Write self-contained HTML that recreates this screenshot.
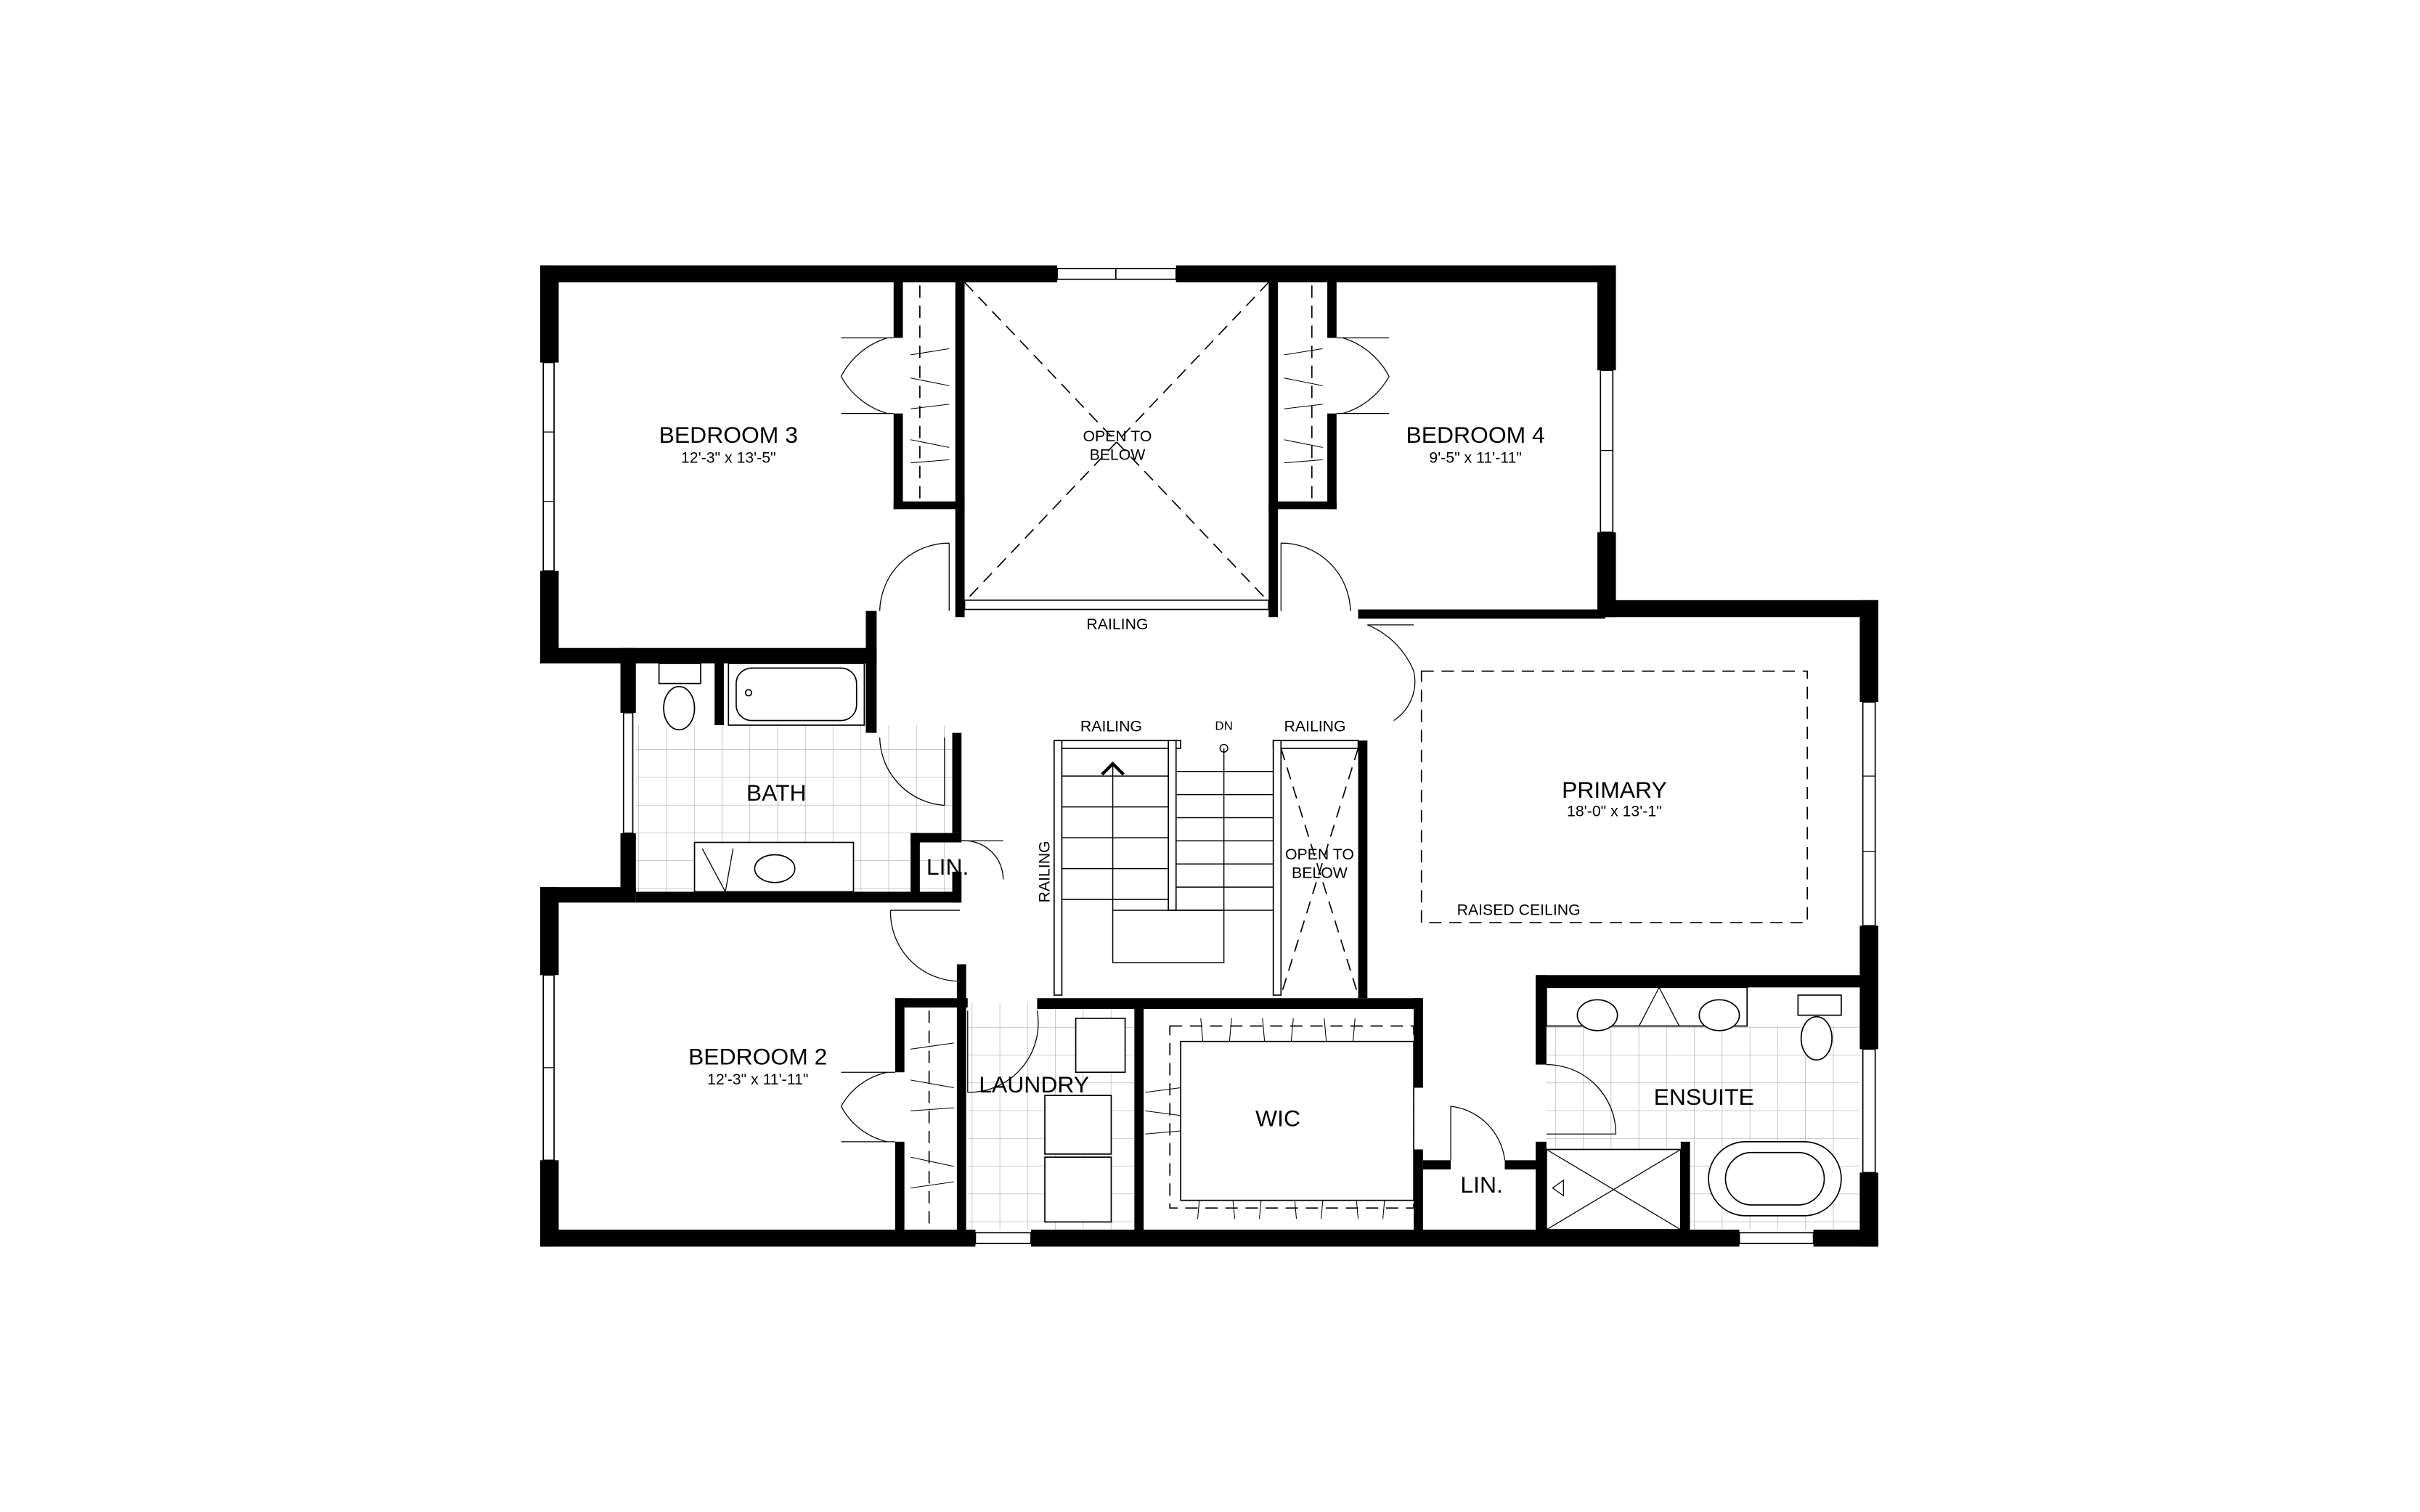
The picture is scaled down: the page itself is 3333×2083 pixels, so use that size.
<!DOCTYPE html>
<html><head><meta charset="utf-8"><style>
html,body{margin:0;padding:0;background:#fff;}
svg{display:block}
text{font-family:"Liberation Sans",sans-serif;fill:#000}
</style></head><body>
<svg width="3333" height="2083" viewBox="0 0 1568 980" preserveAspectRatio="none" xmlns="http://www.w3.org/2000/svg">
<defs>
<pattern id="tile" width="18" height="18" patternUnits="userSpaceOnUse">
<path d="M18 0V18H0" fill="none" stroke="#aaa" stroke-width="0.6"/>
</pattern>
</defs>
<rect width="1568" height="980" fill="#fff"/>
<rect x="412" y="470" width="205" height="108" fill="url(#tile)"/>
<rect x="627" y="650" width="108" height="147" fill="url(#tile)"/>
<rect x="1002" y="665" width="203" height="132" fill="url(#tile)"/>
<g fill="#000">
<rect x="350" y="172" width="335" height="11"/>
<rect x="762" y="172" width="285" height="11"/>
<rect x="350" y="172" width="12" height="63"/>
<rect x="350" y="370" width="12" height="60"/>
<rect x="350" y="420" width="218" height="10"/>
<rect x="402" y="420" width="10" height="42"/>
<rect x="402" y="540" width="10" height="40"/>
<rect x="350" y="575" width="62" height="10"/>
<rect x="412" y="578" width="210" height="7"/>
<rect x="350" y="575" width="12" height="57"/>
<rect x="350" y="752" width="12" height="56"/>
<rect x="350" y="797" width="282" height="11"/>
<rect x="668" y="797" width="459" height="11"/>
<rect x="1175" y="797" width="42" height="11"/>
<rect x="1035" y="172" width="12" height="68"/>
<rect x="1035" y="345" width="12" height="55"/>
<rect x="1035" y="389" width="182" height="11"/>
<rect x="880" y="395" width="160" height="6"/>
<rect x="1205" y="389" width="12" height="66"/>
<rect x="1205" y="600" width="12" height="80"/>
<rect x="1205" y="760" width="12" height="48"/>
<rect x="579" y="183" width="6" height="36"/>
<rect x="579" y="268" width="6" height="62"/>
<rect x="579" y="325" width="46" height="5"/>
<rect x="619" y="183" width="6" height="217"/>
<rect x="561" y="396" width="7" height="34"/>
<rect x="822" y="183" width="6" height="217"/>
<rect x="860" y="183" width="6" height="36"/>
<rect x="860" y="268" width="6" height="62"/>
<rect x="822" y="325" width="44" height="5"/>
<rect x="463" y="430" width="6" height="40"/>
<rect x="561" y="430" width="7" height="45"/>
<rect x="617" y="475" width="6" height="65"/>
<rect x="590" y="540" width="33" height="6"/>
<rect x="590" y="540" width="6" height="40"/>
<rect x="617" y="565" width="6" height="20"/>
<rect x="880" y="480" width="6" height="167"/>
<rect x="580" y="647" width="47" height="6"/>
<rect x="672" y="647" width="250" height="7"/>
<rect x="620" y="625" width="6" height="28"/>
<rect x="580" y="647" width="6" height="48"/>
<rect x="580" y="740" width="6" height="60"/>
<rect x="620" y="647" width="6" height="153"/>
<rect x="735" y="650" width="6" height="150"/>
<rect x="916" y="647" width="6" height="58"/>
<rect x="916" y="745" width="6" height="55"/>
<rect x="922" y="752" width="18" height="6"/>
<rect x="975" y="752" width="20" height="6"/>
<rect x="995" y="632" width="222" height="8"/>
<rect x="995" y="632" width="7" height="58"/>
<rect x="995" y="740" width="7" height="60"/>
<rect x="1089" y="740" width="6" height="60"/>
</g>
<g fill="#fff" stroke="#000" stroke-width="0.8">
<rect x="685" y="174" width="77" height="7"/><line x1="723" y1="174" x2="723" y2="181"/>
<rect x="352" y="235" width="7" height="135"/>
<rect x="404" y="462" width="6" height="78"/>
<rect x="352" y="632" width="7" height="120"/>
<rect x="632" y="799" width="36" height="7"/>
<rect x="1127" y="799" width="48" height="7"/>
<rect x="1037" y="240" width="8" height="105"/>
<rect x="1207" y="455" width="8" height="145"/>
<rect x="1207" y="680" width="8" height="80"/>
</g>
<g stroke="#000" stroke-width="0.6">
<line x1="352" y1="280" x2="359" y2="280"/><line x1="352" y1="325" x2="359" y2="325"/>
<line x1="1037" y1="292" x2="1045" y2="292"/>
<line x1="1207" y1="503" x2="1215" y2="503"/><line x1="1207" y1="552" x2="1215" y2="552"/>
<line x1="352" y1="692" x2="359" y2="692"/>
</g>
<g stroke="#000" stroke-width="0.8" stroke-dasharray="8,5" fill="none">
<line x1="625" y1="183" x2="822" y2="390"/>
<line x1="822" y1="183" x2="625" y2="390"/>
<line x1="830" y1="485" x2="880" y2="645"/>
<line x1="880" y1="485" x2="830" y2="645"/>
<rect x="921" y="435" width="250" height="163"/>
<line x1="596" y1="185" x2="596" y2="325"/>
<line x1="850" y1="185" x2="850" y2="325"/>
<line x1="602" y1="655" x2="602" y2="795"/>
<rect x="758" y="665" width="158" height="118"/>
</g>
<g fill="#fff" stroke="#000" stroke-width="0.8">
<rect x="625" y="389" width="197" height="6"/>
<rect x="683" y="480" width="82" height="5"/>
<rect x="825" y="480" width="55" height="5"/>
<rect x="683" y="480" width="5" height="165"/>
<rect x="757" y="480" width="5" height="110"/>
<rect x="825" y="480" width="5" height="165"/>
</g>
<g stroke="#000" stroke-width="0.7" fill="none">
<line x1="688" y1="503" x2="757" y2="503"/><line x1="688" y1="523" x2="757" y2="523"/>
<line x1="688" y1="543" x2="757" y2="543"/><line x1="688" y1="563" x2="757" y2="563"/>
<line x1="688" y1="583" x2="757" y2="583"/>
<line x1="762" y1="500" x2="825" y2="500"/><line x1="762" y1="515" x2="825" y2="515"/>
<line x1="762" y1="530" x2="825" y2="530"/><line x1="762" y1="545" x2="825" y2="545"/>
<line x1="762" y1="560" x2="825" y2="560"/><line x1="762" y1="575" x2="825" y2="575"/>
<line x1="762" y1="590" x2="825" y2="590"/>
<rect x="721" y="590" width="72" height="34"/>
<line x1="721" y1="495" x2="721" y2="590"/>
<line x1="793" y1="485" x2="793" y2="590"/>
<circle cx="793" cy="485" r="2.5"/>
<path d="M714 502 L721 495 L728 502" stroke-width="2"/>
</g>
<g stroke="#000" stroke-width="0.6" fill="none">
<path d="M575 219 A50 50 0 0 0 545 244 A50 50 0 0 0 575 268"/>
<line x1="545" y1="219" x2="579" y2="219"/><line x1="545" y1="268" x2="579" y2="268"/>
<path d="M870 219 A50 50 0 0 1 900 244 A50 50 0 0 1 870 268"/>
<line x1="866" y1="219" x2="900" y2="219"/><line x1="866" y1="268" x2="900" y2="268"/>
<path d="M615 352 A45 45 0 0 0 570 396"/><line x1="615" y1="352" x2="615" y2="396"/>
<path d="M830 352 A45 45 0 0 1 875 396"/><line x1="830" y1="352" x2="830" y2="396"/>
<path d="M886 405 A55 55 0 0 1 916 435 A30 30 0 0 1 903 467"/><line x1="886" y1="405" x2="916" y2="405"/>
<path d="M570 478 A45 45 0 0 0 612 522"/><line x1="612" y1="478" x2="612" y2="522"/>
<path d="M623 545 A25 25 0 0 1 650 570"/><line x1="623" y1="545" x2="650" y2="545"/>
<path d="M577 590 A45 45 0 0 0 622 636"/><line x1="577" y1="590" x2="622" y2="590"/>
<path d="M627 708 A45 45 0 0 0 672 655"/><line x1="627" y1="655" x2="627" y2="708"/>
<path d="M575 695 A45 45 0 0 0 545 717 A45 45 0 0 0 575 740"/>
<line x1="545" y1="695" x2="580" y2="695"/><line x1="545" y1="740" x2="580" y2="740"/>
<path d="M916 700 A45 45 0 0 0 875 742"/><line x1="875" y1="742" x2="916" y2="742"/>
<path d="M940 717 A40 40 0 0 1 975 752"/><line x1="940" y1="717" x2="940" y2="752"/>
<path d="M1002 690 A45 45 0 0 1 1047 735"/><line x1="1002" y1="735" x2="1047" y2="735"/>
</g>
<g stroke="#000" stroke-width="0.5">
<line x1="590" y1="230" x2="615" y2="226"/><line x1="590" y1="245" x2="615" y2="250"/><line x1="590" y1="265" x2="615" y2="262"/>
<line x1="590" y1="285" x2="615" y2="290"/><line x1="590" y1="300" x2="615" y2="298"/>
<line x1="832" y1="230" x2="857" y2="226"/><line x1="832" y1="245" x2="857" y2="250"/><line x1="832" y1="265" x2="857" y2="262"/>
<line x1="832" y1="285" x2="857" y2="290"/><line x1="832" y1="300" x2="857" y2="298"/>
<line x1="590" y1="680" x2="618" y2="676"/><line x1="590" y1="700" x2="618" y2="705"/><line x1="590" y1="720" x2="618" y2="718"/>
<line x1="590" y1="750" x2="618" y2="756"/><line x1="590" y1="770" x2="618" y2="766"/>
<line x1="778" y1="660" x2="780" y2="682"/><line x1="798" y1="660" x2="796" y2="682"/><line x1="818" y1="660" x2="820" y2="682"/>
<line x1="838" y1="660" x2="836" y2="682"/><line x1="858" y1="660" x2="860" y2="682"/><line x1="878" y1="660" x2="876" y2="682"/>
<line x1="778" y1="768" x2="776" y2="790"/><line x1="798" y1="768" x2="800" y2="790"/><line x1="818" y1="768" x2="816" y2="790"/>
<line x1="838" y1="768" x2="840" y2="790"/><line x1="858" y1="768" x2="856" y2="790"/><line x1="878" y1="768" x2="880" y2="790"/><line x1="898" y1="768" x2="896" y2="790"/>
<line x1="742" y1="708" x2="765" y2="705"/><line x1="742" y1="720" x2="765" y2="723"/><line x1="742" y1="735" x2="765" y2="733"/>
</g>
<g stroke="#000" stroke-width="0.8" fill="#fff">
<rect x="765" y="675" width="151" height="103"/>
<rect x="427" y="430" width="27" height="13"/>
<ellipse cx="440" cy="459" rx="10" ry="14"/>
<rect x="472" y="430" width="88" height="40"/>
<rect x="477" y="433" width="78" height="34" rx="10"/>
<circle cx="485" cy="449" r="2"/>
<rect x="450" y="546" width="103" height="32"/>
<ellipse cx="502" cy="563" rx="13" ry="9"/>
<rect x="697" y="660" width="32" height="35"/>
<rect x="677" y="710" width="43" height="38"/>
<rect x="677" y="750" width="43" height="42"/>
<rect x="1002" y="640" width="130" height="25"/>
<ellipse cx="1035" cy="658" rx="13" ry="10"/>
<ellipse cx="1114" cy="658" rx="13" ry="10"/>
<rect x="1165" y="645" width="28" height="13"/>
<ellipse cx="1177" cy="673" rx="10" ry="14"/>
<rect x="1107" y="740" width="86" height="48" rx="24"/>
<rect x="1118" y="747" width="64" height="34" rx="17"/>
<rect x="1002" y="745" width="87" height="52"/>
</g>
<g stroke="#000" stroke-width="0.6" fill="none">
<line x1="1002" y1="745" x2="1089" y2="797"/><line x1="1089" y1="745" x2="1002" y2="797"/>
<path d="M1013 765 L1006 770 L1013 775 Z"/>
<path d="M1062 665 L1075 640 L1088 665"/>
<line x1="455" y1="550" x2="470" y2="578"/><line x1="470" y1="578" x2="475" y2="550"/>
</g>
<g text-anchor="middle">
<text x="472" y="287" font-size="15">BEDROOM 3</text>
<text x="472" y="300" font-size="10">12'-3" x 13'-5"</text>
<text x="724" y="286" font-size="10">OPEN TO</text>
<text x="724" y="298" font-size="10">BELOW</text>
<text x="956" y="287" font-size="15">BEDROOM 4</text>
<text x="956" y="300" font-size="10">9'-5" x 11'-11"</text>
<text x="724" y="408" font-size="10">RAILING</text>
<text x="720" y="474" font-size="10">RAILING</text>
<text x="793" y="473" font-size="8">DN</text>
<text x="852" y="474" font-size="10">RAILING</text>
<text x="503" y="519" font-size="15">BATH</text>
<text x="614" y="567" font-size="15">LIN.</text>
<text x="855" y="557" font-size="10">OPEN TO</text>
<text x="855" y="569" font-size="10">BELOW</text>
<text x="1046" y="517" font-size="15">PRIMARY</text>
<text x="1046" y="529" font-size="10">18'-0" x 13'-1"</text>
<text x="984" y="593" font-size="10">RAISED CEILING</text>
<text x="491" y="690" font-size="15">BEDROOM 2</text>
<text x="491" y="703" font-size="10">12'-3" x 11'-11"</text>
<text x="670" y="708" font-size="15">LAUNDRY</text>
<text x="828" y="730" font-size="15">WIC</text>
<text x="960" y="773" font-size="15">LIN.</text>
<text x="1104" y="716" font-size="15">ENSUITE</text>
<text x="680" y="565" font-size="10" transform="rotate(-90 680 565)">RAILING</text>
</g>
</svg>
</body></html>
